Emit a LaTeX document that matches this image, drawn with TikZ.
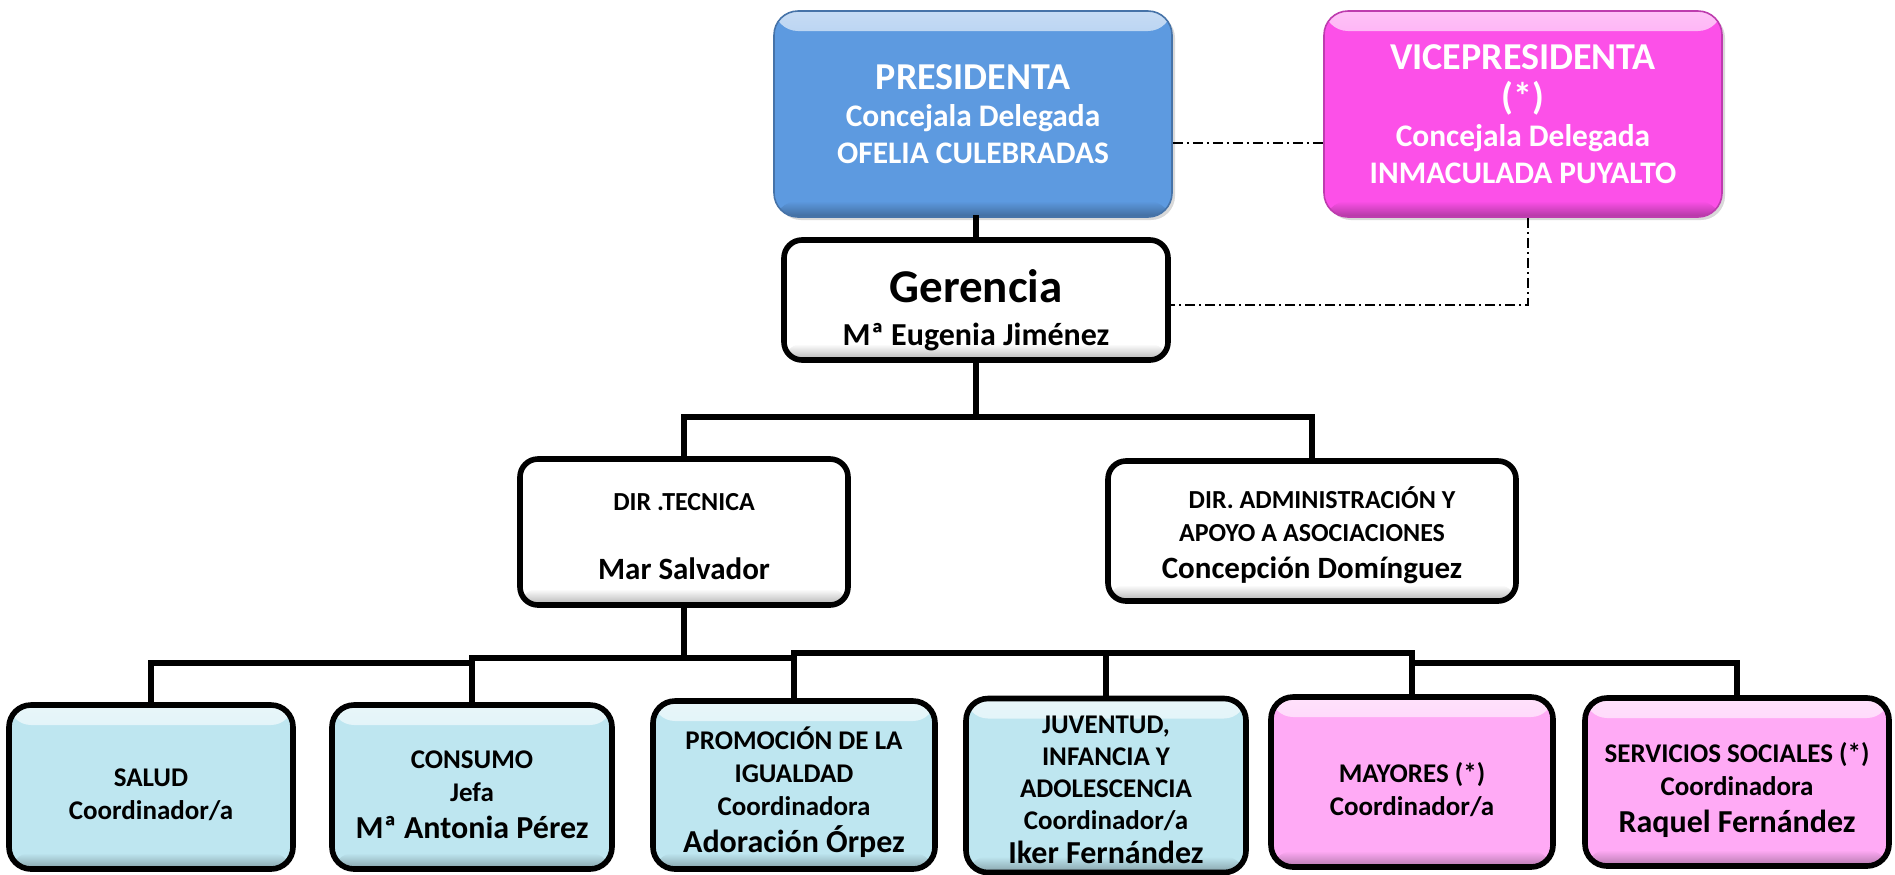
\documentclass[tikz,border=0pt]{standalone}
\usepackage{fontspec}
\setmainfont{Carlito}
\usetikzlibrary{shadows}
\definecolor{presblue}{RGB}{93,154,224}
\definecolor{vicemag}{RGB}{252,80,232}
\definecolor{lblue}{RGB}{190,230,240}
\definecolor{lpink}{RGB}{255,170,245}
\newcommand\bigname[1]{{\fontsize{16}{18}\selectfont #1}}
\newcommand\topstrut[1]{\rule{0pt}{#1}}
\begin{document}
\begin{tikzpicture}[x=0.5pt,y=-0.5pt,
  gloss/.style={fill=#1, path picture={
    \shade[top color=#1!35!white, bottom color=#1] (path picture bounding box.north west) rectangle ([yshift=-10pt]path picture bounding box.north east);
    \shade[top color=#1, bottom color=#1!70!black] ([yshift=8pt]path picture bounding box.south west) rectangle (path picture bounding box.south east);}},
  topbox/.style={gloss=#1, draw=#1!75!black, line width=0.8pt, rounded corners=12pt,
    inner sep=0pt, align=center, text=white, font=\bfseries\fontsize{15.7}{18.5}\selectfont,
    drop shadow={shadow xshift=1.5pt, shadow yshift=-1.5pt, opacity=0.3}},
  wbox/.style={gloss=white, draw=black, line width=2.8pt, rounded corners=9pt,
    inner sep=0pt, align=center, text=black},
  unit/.style={gloss=#1, draw=black, line width=2.8pt, rounded corners=11pt,
    inner sep=0pt, align=center, text=black, font=\bfseries\fontsize{13.5}{16.5}\selectfont},
  conn/.style={line width=2.6pt, line cap=rect},
  dd/.style={line width=1pt, dash pattern=on 5pt off 2pt on 1pt off 2pt}]
\useasboundingbox (0,0) rectangle (1895,874);

% top level
\node[topbox=presblue, minimum width=199pt, minimum height=103pt] (pres) at (973,114)
  {{\fontsize{19}{18.5}\selectfont PRESIDENTA}\\Concejala Delegada\\OFELIA CULEBRADAS};
\node[topbox=vicemag, minimum width=199pt, minimum height=103pt] (vice) at (1523,114)
  {{\fontsize{19}{18.5}\selectfont VICEPRESIDENTA}\\[1.5pt]{\fontsize{19}{18.5}\selectfont (*)}\\Concejala Delegada\\INMACULADA PUYALTO};

\node[wbox, minimum width=192pt, minimum height=60pt, font=\bfseries\fontsize{16}{21.5}\selectfont] (ger) at (976,300)
  {\topstrut{27pt}{\fontsize{23.5}{21.5}\selectfont Gerencia}\\Mª Eugenia Jiménez};

% directors
\node[wbox, minimum width=164pt, minimum height=73pt, font=\bfseries\fontsize{13}{17.25}\selectfont] (tec) at (684,532)
  {\topstrut{13.5pt}DIR .TECNICA\\[17.25pt]{\fontsize{15.5}{17}\selectfont Mar Salvador}};
\node[wbox, minimum width=204pt, minimum height=70pt, font=\bfseries\fontsize{13}{16.5}\selectfont] (adm) at (1312,531)
  {\topstrut{15pt}\hspace*{10pt}DIR. ADMINISTRACIÓN Y\\APOYO A ASOCIACIONES\\[2pt]{\fontsize{15.5}{17}\selectfont Concepción Domínguez}};

% units
\node[unit=lblue, minimum width=142pt, minimum height=82pt] (salud) at (151,787)
  {\topstrut{17pt}SALUD\\Coordinador/a};
\node[unit=lblue, minimum width=140pt, minimum height=82pt] (cons) at (472,787)
  {\topstrut{17pt}CONSUMO\\Jefa\\[2pt]\bigname{Mª Antonia Pérez}};
\node[unit=lblue, minimum width=141pt, minimum height=84pt] (promo) at (794,785)
  {\topstrut{18pt}PROMOCIÓN DE LA\\IGUALDAD\\Coordinadora\\[2pt]\bigname{Adoración Órpez}};
\node[unit=lblue, minimum width=140pt, minimum height=87pt, font=\bfseries\fontsize{13.5}{16}\selectfont] (juv) at (1106,785.5)
  {\topstrut{13pt}JUVENTUD,\\INFANCIA Y\\ADOLESCENCIA\\Coordinador/a\\[1pt]\bigname{Iker Fernández}};
\node[unit=lpink, minimum width=141pt, minimum height=85pt] (may) at (1412,782)
  {\topstrut{18pt}MAYORES (*)\\Coordinador/a};
\node[unit=lpink, minimum width=152pt, minimum height=84pt] (serv) at (1737,782)
  {\topstrut{18pt}SERVICIOS SOCIALES (*)\\Coordinadora\\[2pt]\bigname{Raquel Fernández}};

% connectors
\coordinate (busTop) at (976,417);
\coordinate (yA) at (0,663);
\coordinate (yB) at (0,658);
\coordinate (yC) at (0,653);
\coordinate (dl) at (0,143);
\coordinate (gy) at (0,305);

\draw[conn] (ger.north |- pres.south) -- (ger.north);
\draw[conn] (ger.south) -- (busTop);
\draw[conn] (tec.north) |- (adm.north |- busTop) -- (adm.north);
\draw[conn] (tec.south) -- (tec.south |- yB);
\draw[conn] (salud.north) |- (cons.north |- yA);
\draw[conn] (cons.north) |- (promo.north |- yB);
\draw[conn] (promo.north) |- (may.north |- yC);
\draw[conn] (juv.north) -- (juv.north |- yC);
\draw[conn] (may.north) -- (may.north |- yC);
\draw[conn] (serv.north) |- (may.north |- yA);

\draw[dd] (pres.east |- dl) -- (vice.west |- dl);
\draw[dd] ([xshift=2.5pt]vice.south) |- (ger.east |- gy);
\end{tikzpicture}
\end{document}
